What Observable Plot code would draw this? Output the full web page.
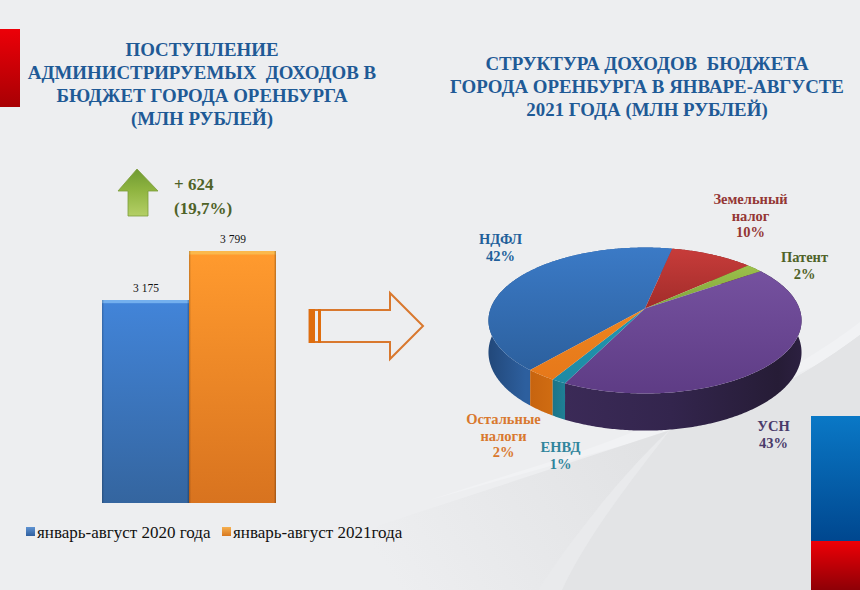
<!DOCTYPE html>
<html lang="ru">
<head>
<meta charset="utf-8">
<script src="https://cdn.jsdelivr.net/npm/d3@7"></script>
<script src="https://cdn.jsdelivr.net/npm/@observablehq/plot@0.6"></script>
<style>
  html, body { margin: 0; padding: 0; background: #edeef0; }
  #stage { position: relative; width: 860px; height: 590px; overflow: hidden; font-family: "Liberation Serif", serif; }
  #stage > svg, #bars, #pie { position: absolute; left: 0; top: 0; margin: 0; }
  .title { position: absolute; text-align: center; color: #1f5a96; font-weight: bold; font-size: 18.9px; line-height: 23px; white-space: pre; }
  .delta { position: absolute; color: #4f6228; font-weight: bold; font-size: 17px; line-height: 24px; white-space: pre; }
  .legend { position: absolute; color: #111; font-size: 17px; line-height: 18px; white-space: pre; }
  .swatch { position: absolute; width: 9px; height: 9px; }
</style>
</head>
<body>
<div id="stage">
  <svg width="860" height="590">
    <defs>
      <linearGradient id="leftRed" x1="0" y1="0" x2="0" y2="1"><stop offset="0" stop-color="#ec0008"/><stop offset="1" stop-color="#a80004"/></linearGradient>
      <linearGradient id="cornerBlue" x1="0" y1="0" x2="0" y2="1"><stop offset="0" stop-color="#0a78c6"/><stop offset="1" stop-color="#00478f"/></linearGradient>
      <linearGradient id="cornerRed" x1="0" y1="0" x2="0" y2="1"><stop offset="0" stop-color="#ee0006"/><stop offset="1" stop-color="#8e0006"/></linearGradient>
      <linearGradient id="arrowGreen" x1="0" y1="0" x2="0" y2="1"><stop offset="0" stop-color="#6f9a32"/><stop offset="0.45" stop-color="#8fb440"/><stop offset="1" stop-color="#b4cf66"/></linearGradient>
      <linearGradient id="swooshGrey" gradientUnits="userSpaceOnUse" x1="400" y1="590" x2="640" y2="440"><stop offset="0" stop-color="#edeef0"/><stop offset="1" stop-color="#e1e2e4"/></linearGradient>

      <linearGradient id="barBlue" x1="0" y1="0" x2="0" y2="1"><stop offset="0" stop-color="#74b0ee"/><stop offset="0.014" stop-color="#74b0ee"/><stop offset="0.018" stop-color="#4284d8"/><stop offset="1" stop-color="#34659f"/></linearGradient>
      <linearGradient id="barOrange" x1="0" y1="0" x2="0" y2="1"><stop offset="0" stop-color="#fbb84c"/><stop offset="0.012" stop-color="#fbb84c"/><stop offset="0.016" stop-color="#ff9a2e"/><stop offset="1" stop-color="#d8731f"/></linearGradient>
      <linearGradient id="barEdge" x1="0" y1="0" x2="1" y2="0"><stop offset="0" stop-color="#000" stop-opacity=".22"/><stop offset=".025" stop-color="#000" stop-opacity="0"/><stop offset=".975" stop-color="#000" stop-opacity="0"/><stop offset="1" stop-color="#000" stop-opacity=".28"/></linearGradient>

      <linearGradient id="top0" x1="0" y1="0" x2="0" y2="1"><stop offset="0" stop-color="#3b7ac6"/><stop offset="1" stop-color="#2c609e"/></linearGradient>
      <linearGradient id="top1" x1="0" y1="0" x2="0" y2="1"><stop offset="0" stop-color="#c73c3a"/><stop offset="1" stop-color="#a22c2a"/></linearGradient>
      <linearGradient id="top2" x1="0" y1="0" x2="0" y2="1"><stop offset="0" stop-color="#9cc04a"/><stop offset="1" stop-color="#7fa43c"/></linearGradient>
      <linearGradient id="top3" x1="0" y1="0" x2="0" y2="1"><stop offset="0" stop-color="#75519f"/><stop offset="1" stop-color="#5e3c85"/></linearGradient>
      <linearGradient id="top4" x1="0" y1="0" x2="0" y2="1"><stop offset="0" stop-color="#2196b0"/><stop offset="1" stop-color="#1e8aa4"/></linearGradient>
      <linearGradient id="top5" x1="0" y1="0" x2="0" y2="1"><stop offset="0" stop-color="#ee851f"/><stop offset="1" stop-color="#e6781a"/></linearGradient>

      <linearGradient id="wall0" x1="0" y1="0" x2="1" y2="0"><stop offset="0" stop-color="#22487a"/><stop offset=".2" stop-color="#2d5f9e"/><stop offset="1" stop-color="#2d5f9e"/></linearGradient>
      <linearGradient id="wall1" x1="0" y1="0" x2="1" y2="0"><stop offset="0" stop-color="#7a2120"/><stop offset="1" stop-color="#7a2120"/></linearGradient>
      <linearGradient id="wall2" x1="0" y1="0" x2="1" y2="0"><stop offset="0" stop-color="#5f7c2c"/><stop offset="1" stop-color="#5f7c2c"/></linearGradient>
      <linearGradient id="wall3" x1="0" y1="0" x2="1" y2="0"><stop offset="0" stop-color="#3b2a57"/><stop offset=".45" stop-color="#33254d"/><stop offset=".9" stop-color="#261c36"/><stop offset="1" stop-color="#2c2040"/></linearGradient>
      <linearGradient id="wall4" x1="0" y1="0" x2="1" y2="0"><stop offset="0" stop-color="#1c7488"/><stop offset="1" stop-color="#1f8096"/></linearGradient>
      <linearGradient id="wall5" x1="0" y1="0" x2="1" y2="0"><stop offset="0" stop-color="#c7640f"/><stop offset="1" stop-color="#d06c12"/></linearGradient>
    </defs>
    <path d="M430 500 C520 470 600 450 670 415 C750 395 810 360 860 322 L860 345 L670 432 Z" fill="#f1f2f4"/>
    <path d="M300 590 L380 525 L670 430 C740 410 800 380 860 335 L860 590 Z" fill="url(#swooshGrey)"/>
    <path d="M860 335 C800 380 740 410 670 430 C640 470 590 530 560 590 L860 590 Z" fill="#e3e4e6"/>
    <path d="M670 430 C630 465 570 540 538 590 L562 590 C590 530 640 470 670 430 Z" fill="#e9eaec"/>
    <rect x="0" y="29" width="20" height="78" fill="url(#leftRed)"/>
    <rect x="811" y="416" width="49" height="125" fill="url(#cornerBlue)"/>
    <rect x="811" y="541" width="49" height="49" fill="url(#cornerRed)"/>
    <polygon points="137,169 158,191 148,191 148,216 128,216 128,191 118,191" fill="url(#arrowGreen)" stroke="#7c9c3a" stroke-width=".8"/>
    <polygon points="309.500,310 390,310 390,293 423,326 390,359 390,342 309.500,342" fill="none" stroke="#d9782e" stroke-width="2"/>
    <rect x="309" y="309" width="6" height="34" fill="#df6d0e"/>
    <rect x="318" y="309" width="3" height="34" fill="#df6d0e"/>
  </svg>

  <div class="title" style="left:2px;width:400px;top:38px">ПОСТУПЛЕНИЕ
АДМИНИСТРИРУЕМЫХ  ДОХОДОВ В
БЮДЖЕТ ГОРОДА ОРЕНБУРГА
(МЛН РУБЛЕЙ)</div>
  <div class="title" style="left:447px;width:400px;top:52px">СТРУКТУРА ДОХОДОВ  БЮДЖЕТА
ГОРОДА ОРЕНБУРГА В ЯНВАРЕ-АВГУСТЕ
2021 ГОДА (МЛН РУБЛЕЙ)</div>
  <div class="delta" style="left:174px;top:173px">+ 624
(19,7%)</div>
  <div id="bars"></div>
  <div id="pie"></div>
  <div class="swatch" style="left:26px;top:527px;background:linear-gradient(#5f93d2,#2f5f9f)"></div>
  <div class="legend" style="left:37px;top:524px">январь-август 2020 года</div>
  <div class="swatch" style="left:222px;top:527px;background:linear-gradient(#f6b050,#d8781f)"></div>
  <div class="legend" style="left:233px;top:524px">январь-август 2021года</div>
</div>

<script>
// Bar chart values
const periods = ["январь-август 2020 года", "январь-август 2021года"];
const revenue = [3175, 3799];
const revenueLabels = ["3 175", "3 799"];
const barFills = ["url(#barBlue)", "url(#barOrange)"];
const axisFloor = 590; // the picture's axis does not start at zero

const sliceNames = ["НДФЛ", "Земельный\nналог", "Патент", "УСН", "ЕНВД", "Остальные\nналоги"];
const sliceShares = [42, 10, 2, 42, 1.3, 2.7];
const shareLabels = ["42%", "10%", "2%", "43%", "1%", "2%"];
const labelColors = ["#215f9a", "#943634", "#4f6228", "#4a3b6a", "#31859c", "#d9782e"];
const labelAnchors = [[500, 232], [750, 192], [804, 250], [773, 419], [560, 440], [503, 412]];
const startAngle = -139.4; // degrees clockwise from the far side of the disc
const tilt = 0.1645;       // perspective strength
const depth = 0.437;       // disc thickness, in y units

const barRows = periods.map((period, i) => ({period, value: revenue[i], label: revenueLabels[i], fill: barFills[i]}));

const barsPlot = Plot.plot({
  width: 860, height: 590, margin: 0,
  style: {background: "transparent"},
  x: {type: "band", domain: periods, range: [101, 276], padding: 0, axis: null},
  y: {domain: [axisFloor, 3799], range: [503, 251], axis: null},
  marks: [
    ...barRows.map(r => Plot.barY([r], {x: "period", y1: () => axisFloor, y2: "value", fill: r.fill})),
    Plot.barY(barRows, {x: "period", y1: () => axisFloor, y2: "value", fill: "url(#barEdge)"}),
    Plot.text(barRows, {x: "period", y: "value", text: "label", dy: -12, fontSize: 11.5, fill: "#111", fontFamily: "Liberation Serif"})
  ]
});
document.getElementById("bars").append(barsPlot);

// Perspective projection of the disc: a point at angle a on the rim, on the
// top (drop = 0) or bottom (drop = depth) face, in unit coordinates.
const rim = (deg, drop) => {
  const a = deg * Math.PI / 180, w = 1 + tilt * Math.cos(a);
  return {x: Math.sin(a) / w, y: (Math.cos(a) - drop) / w};
};
const arc = (from, to, drop) => {
  const n = Math.max(2, Math.ceil((to - from) * 1.5));
  return d3.range(n + 1).map(i => rim(from + (to - from) * i / n, drop));
};

let cursor = startAngle;
const slices = sliceShares.map((share, i) => {
  const from = cursor, to = cursor + share * 3.6;
  cursor = to;
  return {i, from, to, mid: (from + to) / 2};
});

const topFace = s => [{x: 0, y: 0}, ...arc(s.from, s.to, 0)];
const wall = s => [...arc(s.from, s.to, 0), ...arc(s.from, s.to, depth).reverse()];
// Far walls are painted first, the nearest ones last.
const wallOrder = [...slices].sort((a, b) => Math.cos(b.mid * Math.PI / 180) - Math.cos(a.mid * Math.PI / 180));

const piePlot = Plot.plot({
  width: 860, height: 590, margin: 0,
  style: {background: "transparent"},
  x: {domain: [-1, 1], range: [490.1, 798.9], axis: null},
  y: {domain: [-1, 1], range: [379, 237], axis: null},
  marks: [
    ...wallOrder.map(s => Plot.line(wall(s), {x: "x", y: "y", fill: `url(#wall${s.i})`, stroke: "none"})),
    ...slices.map(s => Plot.line(topFace(s), {x: "x", y: "y", fill: `url(#top${s.i})`, stroke: "none"})),
    ...sliceNames.map((name, i) => Plot.text([`${name}\n${shareLabels[i]}`], {
      text: d => d,
      frameAnchor: "top-left",
      dx: labelAnchors[i][0], dy: labelAnchors[i][1],
      textAnchor: "middle", lineAnchor: "top", lineHeight: 1.14,
      fontSize: 14.5, fontWeight: "bold", fontFamily: "Liberation Serif",
      fill: labelColors[i]
    }))
  ]
});
document.getElementById("pie").append(piePlot);
</script>
</body>
</html>
